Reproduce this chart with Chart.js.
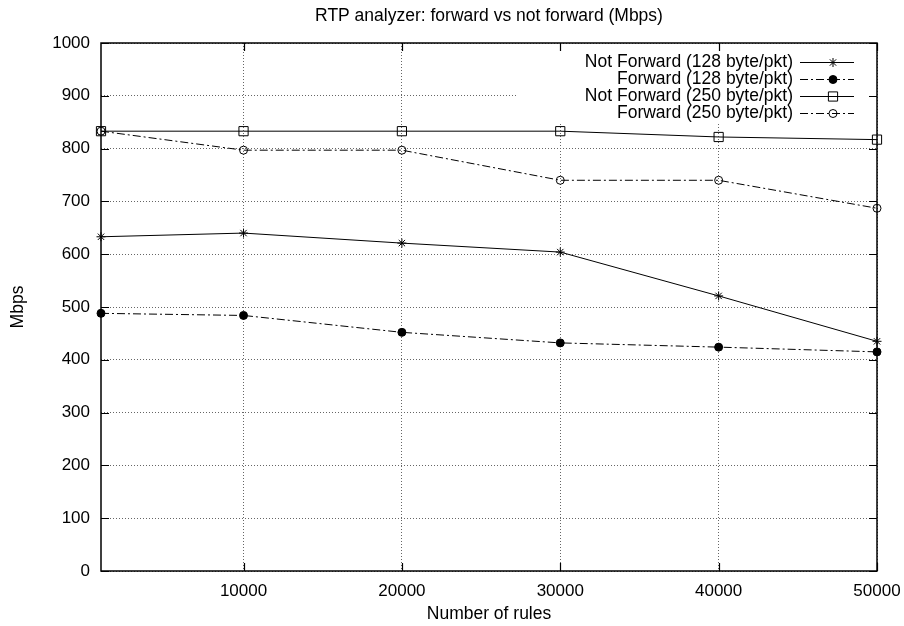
<!DOCTYPE html>
<html>
<head>
<meta charset="utf-8">
<script src="https://cdn.jsdelivr.net/npm/chart.js@4.4.0/dist/chart.umd.min.js"></script>
<style>
  html, body { margin: 0; padding: 0; background: #fff; }
  #wrap { width: 904px; height: 626px; }
</style>
</head>
<body>
<div id="wrap"><canvas id="chart"></canvas></div>
<script>
var rules = [1000, 10000, 20000, 30000, 40000, 50000];
var notFwd128 = [633, 640, 621, 604, 521, 435];
var fwd128 = [488, 484, 452, 432, 424, 415];
var notFwd250 = [833, 833, 833, 833, 822, 817];
var fwd250 = [833, 797, 797, 740, 740, 687];
var xTicks = [10000, 20000, 30000, 40000, 50000];
var seriesNames = ['Not Forward (128 byte/pkt)', 'Forward (128 byte/pkt)',
                   'Not Forward (250 byte/pkt)', 'Forward (250 byte/pkt)'];

var FONT = 'Liberation Sans, Arial, Helvetica, sans-serif';
var dashDot = [8, 3, 2, 3];

function pts(ys) {
    return rules.map(function (x, i) { return { x: x, y: ys[i] }; });
}

// gnuplot style frame with inward ticks, and the key at the top right
var gnuplotBits = {
    id: 'gnuplotBits',
    beforeDatasetsDraw: function (chart) {
        var a = chart.chartArea, ctx = chart.ctx;
        ctx.save();
        ctx.fillStyle = '#fff';
        ctx.fillRect(a.left + 417, a.top + 1, a.right - a.left - 418, 78);
        ctx.restore();
    },
    afterDraw: function (chart) {
        var a = chart.chartArea, ctx = chart.ctx;
        var xs = chart.scales.x, ys = chart.scales.y;
        ctx.save();
        ctx.strokeStyle = '#000';
        ctx.lineWidth = 1.5;
        ctx.strokeRect(a.left, a.top, a.right - a.left, a.bottom - a.top);
        ctx.lineWidth = 1.2;
        ctx.beginPath();
        xs.ticks.forEach(function (t) {
            var px = Math.round(xs.getPixelForValue(t.value)) + 0.5;
            ctx.moveTo(px, a.bottom); ctx.lineTo(px, a.bottom - 8);
            ctx.moveTo(px, a.top); ctx.lineTo(px, a.top + 8);
        });
        ys.ticks.forEach(function (t) {
            var py = Math.round(ys.getPixelForValue(t.value)) + 0.5;
            ctx.moveTo(a.left, py); ctx.lineTo(a.left + 8, py);
            ctx.moveTo(a.right, py); ctx.lineTo(a.right - 8, py);
        });
        ctx.stroke();

        // key
        ctx.font = '17.5px ' + FONT;
        ctx.textAlign = 'right';
        ctx.textBaseline = 'middle';
        chart.data.datasets.forEach(function (ds, i) {
            var y = a.top + 19 + i * 17;
            var tx = a.right - 84;
            ctx.fillStyle = '#000';
            ctx.fillText(ds.label, tx, y);
            ctx.strokeStyle = '#000';
            ctx.lineWidth = 1;
            ctx.setLineDash(ds.borderDash || []);
            ctx.beginPath();
            ctx.moveTo(tx + 7, y + 0.5);
            ctx.lineTo(tx + 61, y + 0.5);
            ctx.stroke();
            ctx.setLineDash([]);
            ctx.fillStyle = ds.pointBackgroundColor;
            Chart.helpers.drawPoint(ctx, {
                pointStyle: ds.pointStyle,
                radius: ds.pointRadius,
                borderWidth: 1,
                rotation: 0
            }, tx + 40, y + 0.5);
        });
        ctx.restore();
    }
};

window.onload = function () {
    const ctx = document.getElementById('chart');

    new Chart(ctx, {
        type: 'line',
        data: {
            datasets: [{
                label: seriesNames[0],
                data: pts(notFwd128),
                borderColor: '#000',
                borderWidth: 1,
                pointStyle: 'star',
                pointRadius: 4.5,
                pointBorderColor: '#000',
                pointBackgroundColor: 'rgba(0,0,0,0)',
                pointBorderWidth: 1,
                clip: false
            },
            {
                label: seriesNames[1],
                data: pts(fwd128),
                borderColor: '#000',
                borderWidth: 1,
                borderDash: dashDot,
                pointStyle: 'circle',
                pointRadius: 4,
                pointBorderColor: '#000',
                pointBackgroundColor: '#000',
                pointBorderWidth: 1,
                clip: false
            },
            {
                label: seriesNames[2],
                data: pts(notFwd250),
                borderColor: '#000',
                borderWidth: 1,
                pointStyle: 'rect',
                pointRadius: 6.5,
                pointBorderColor: '#000',
                pointBackgroundColor: 'rgba(0,0,0,0)',
                pointBorderWidth: 1,
                clip: false
            },
            {
                label: seriesNames[3],
                data: pts(fwd250),
                borderColor: '#000',
                borderWidth: 1,
                borderDash: dashDot,
                pointStyle: 'circle',
                pointRadius: 4,
                pointBorderColor: '#000',
                pointBackgroundColor: 'rgba(0,0,0,0)',
                pointBorderWidth: 1,
                clip: false
            }]
        },
        options: {
            responsive: true,
            maintainAspectRatio: false,
            animation: false,
            layout: {
                padding: { left: 0, right: 27, top: 0, bottom: 0 }
            },
            plugins: {
                legend: { display: false },
                tooltip: { enabled: false },
                title: {
                    display: true,
                    fullSize: false,
                    text: 'RTP analyzer: forward vs not forward (Mbps)',
                    color: '#000',
                    font: { family: FONT, size: 17.5, weight: 'normal' },
                    padding: { top: 5.5, bottom: 16.5 }
                }
            },
            scales: {
                x: {
                    type: 'linear',
                    min: rules[0],
                    max: 50000,
                    afterBuildTicks: function (scale) {
                        scale.ticks = xTicks.map(function (v) { return { value: v }; });
                    },
                    afterFit: function (scale) {
                        scale.height = 55;
                        scale.paddingLeft = 0;
                        scale.paddingRight = 0;
                    },
                    ticks: {
                        color: '#000',
                        font: { family: FONT, size: 17 },
                        padding: 10,
                        maxRotation: 0,
                        callback: function (v) { return String(v); }
                    },
                    grid: { color: '#666', lineWidth: 1, drawTicks: false },
                    border: { display: false, dash: [1, 2] },
                    title: {
                        display: true,
                        text: 'Number of rules',
                        color: '#000',
                        font: { family: FONT, size: 17.5 },
                        padding: { top: 0, bottom: 1.5 }
                    }
                },
                y: {
                    min: 0,
                    max: 1000,
                    afterFit: function (scale) {
                        scale.width = 101;
                        scale.paddingTop = 0;
                        scale.paddingBottom = 0;
                    },
                    ticks: {
                        stepSize: 100,
                        color: '#000',
                        font: { family: FONT, size: 17 },
                        padding: 11,
                        callback: function (v) { return String(v); }
                    },
                    grid: { color: '#666', lineWidth: 1, drawTicks: false },
                    border: { display: false, dash: [1, 2] },
                    title: {
                        display: true,
                        text: 'Mbps',
                        color: '#000',
                        font: { family: FONT, size: 17.5 },
                        padding: { top: 7.5, bottom: 0 }
                    }
                }
            }
        },
        plugins: [gnuplotBits]
    });
};
</script>
</body>
</html>
